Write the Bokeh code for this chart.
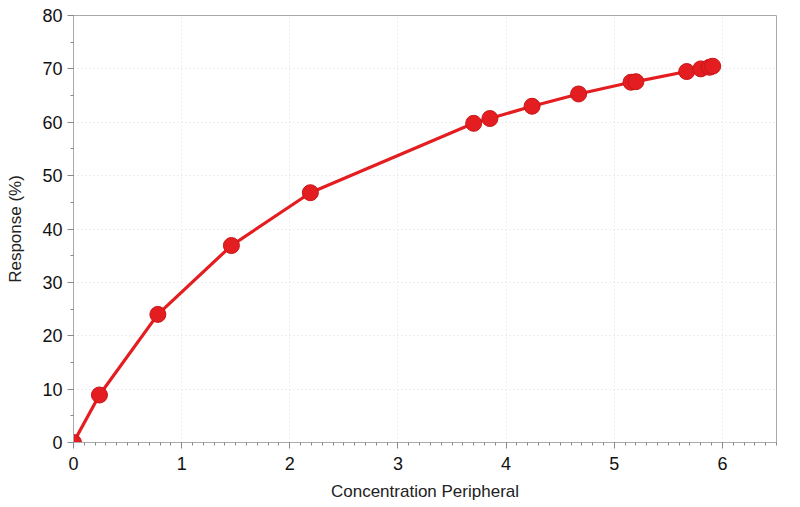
from bokeh.plotting import figure
from bokeh.models import SingleIntervalTicker, Range1d
from bokeh.embed import file_html
from bokeh.resources import INLINE

conc = [0.0, 0.24, 0.78, 1.46, 2.19, 3.70, 3.85, 4.24, 4.67, 5.155, 5.20, 5.67, 5.80, 5.88, 5.91]
resp = [0.0, 8.9, 24.0, 36.9, 46.8, 59.8, 60.7, 63.0, 65.3, 67.5, 67.6, 69.5, 70.0, 70.3, 70.5]

RED = "#e41e20"

p = figure(width=800, height=507, output_backend="svg", toolbar_location=None,
           x_range=Range1d(0, 6.5), y_range=Range1d(0, 80),
           min_border_left=73, min_border_right=24, min_border_top=15, min_border_bottom=65)

p.line(conc, resp, line_color=RED, line_width=3.2)
sc = p.scatter(conc, resp, size=16, fill_color=RED, line_color="#c81518", line_width=1)
try:
    sc.clip = False
except Exception:
    pass

p.xaxis.ticker = SingleIntervalTicker(interval=1, num_minor_ticks=10)
p.yaxis.ticker = SingleIntervalTicker(interval=10, num_minor_ticks=2)
p.xaxis.axis_label = "Concentration Peripheral"
p.yaxis.axis_label = "Response (%)"
for ax in (p.xaxis, p.yaxis):
    ax.axis_label_text_font = "Liberation Sans"
    ax.axis_label_text_font_style = "normal"
    ax.axis_label_text_font_size = "17px"
    ax.axis_label_text_color = "#222222"
    ax.major_label_text_font = "Liberation Sans"
    ax.major_label_text_font_size = "18px"
    ax.major_label_text_color = "#111111"
    ax.axis_line_color = "#aaaaaa"
    ax.major_tick_line_color = "#888888"
    ax.minor_tick_line_color = "#888888"
    ax.major_tick_out = 6
    ax.major_tick_in = 0
    ax.minor_tick_out = 3
    ax.minor_tick_in = 0
p.xaxis.axis_label_standoff = 9
p.yaxis.axis_label_standoff = 14
p.xaxis.major_label_standoff = 8

p.grid.grid_line_color = "#dddddd"
p.grid.grid_line_dash = "1 3"
p.outline_line_color = "#aaaaaa"
p.outline_line_width = 1

open("out.html", "w").write(file_html(p, INLINE))
